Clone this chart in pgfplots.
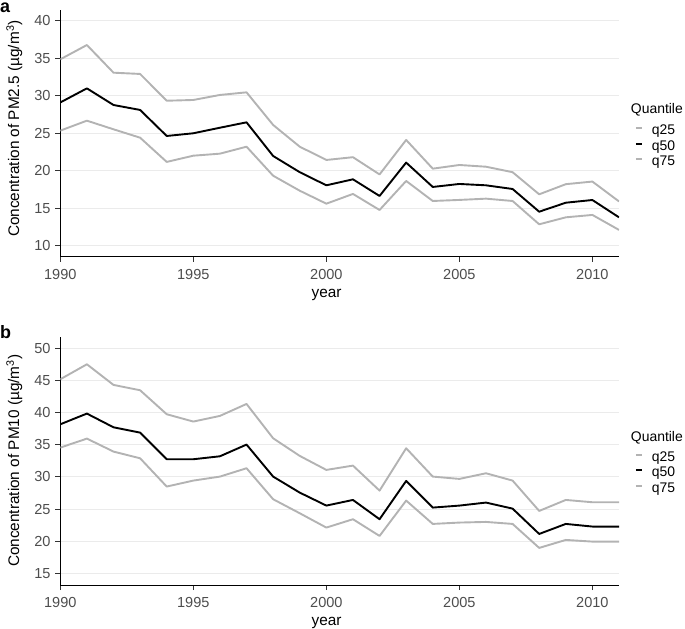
\documentclass[border=0pt]{standalone}
\usepackage{fontspec}
\setmainfont{Liberation Sans}
\usepackage{pgfplots}
\usepackage{pgfplotstable}
\pgfplotsset{compat=1.18}

\definecolor{qgray}{RGB}{179,179,179}
\definecolor{gridgray}{RGB}{235,235,235}
\definecolor{ticktext}{RGB}{77,77,77}
\definecolor{tickmark}{RGB}{51,51,51}

% PM2.5 quantiles
\pgfplotstableread{
year q25 q50 q75
1990 25.34 29.10 34.85
1991 26.67 30.98 36.76
1992 25.52 28.76 33.07
1993 24.40 28.10 32.90
1994 21.17 24.63 29.33
1995 22.00 24.99 29.43
1996 22.27 25.73 30.10
1997 23.20 26.45 30.45
1998 19.33 21.96 26.10
1999 17.33 19.80 23.20
2000 15.60 18.05 21.43
2001 16.90 18.85 21.80
2002 14.76 16.63 19.50
2003 18.63 21.08 24.10
2004 15.96 17.83 20.27
2005 16.10 18.23 20.76
2006 16.27 18.05 20.53
2007 15.96 17.56 19.80
2008 12.85 14.53 16.85
2009 13.78 15.73 18.20
2010 14.10 16.09 18.55
2011 12.10 13.78 15.90
}\pmtwofive

% PM10 quantiles
\pgfplotstableread{
year q25 q50 q75
1990 34.55 38.18 45.18
1991 35.95 39.84 47.51
1992 33.93 37.71 44.30
1993 32.89 36.88 43.47
1994 28.49 32.74 39.74
1995 29.42 32.74 38.60
1996 30.04 33.20 39.48
1997 31.34 35.02 41.34
1998 26.52 30.04 36.00
1999 24.34 27.55 33.26
2000 22.11 25.53 31.08
2001 23.41 26.41 31.75
2002 20.81 23.41 27.86
2003 26.31 29.37 34.45
2004 22.68 25.22 30.04
2005 22.89 25.53 29.68
2006 22.99 26.00 30.56
2007 22.68 25.06 29.42
2008 18.95 21.12 24.70
2009 20.19 22.68 26.41
2010 19.93 22.27 26.05
2011 19.93 22.27 26.05
}\pmten

\pgfplotsset{
  quant/.style={
    scale only axis, width=558.7bp, anchor=south west,
    xmin=1990, xmax=2011,
    xtick={1990,1995,2000,2005,2010},
    axis x line*=bottom, axis y line*=left,
    axis line style={black, line width=0.8bp},
    tick align=outside, major tick length=5bp,
    tick style={tickmark, line width=0.8bp},
    ymajorgrids, major grid style={gridgray, line width=0.8bp},
    ticklabel style={font=\fontsize{14.6}{16}\selectfont, text=ticktext},
    xticklabel style={anchor=north, inner sep=0pt, text height=10.4bp, yshift=-7.3bp},
    yticklabel style={anchor=east, inner sep=0pt, xshift=-4.6bp},
    /pgf/number format/1000 sep=,
    /pgf/number format/assume math mode=true,
    label style={font=\fontsize{15.4}{17}\selectfont},
    xlabel=year,
    xlabel style={at={(axis description cs:0.4765,0)}, anchor=base, yshift=-40.5bp},
    legend style={draw=none, fill=none, anchor=north west,
      font=\fontsize{14}{16}\selectfont, column sep=9bp,
      nodes={inner sep=0pt, text height=10.3bp, text depth=5bp}},
    legend cell align=left,
    legend image code/.code={\draw[#1] (0bp,3.8bp) -- (6bp,3.8bp);},
    every axis plot/.append style={line width=1.9bp, line join=round},
  }
}

\begin{document}
\begin{tikzpicture}
\path[use as bounding box] (0,0) rectangle (685bp,629bp);

\begin{axis}[quant,
    at={(60.3bp,372.3bp)}, height=246.7bp,
    ymin=8.53, ymax=41.43, ytick={10,15,...,40},
    ylabel={Concentration of PM2.5 (µg/m\textsuperscript{3})},
    ylabel style={at={(axis description cs:-0.0739,0.519)}, anchor=base},
    legend style={at={(1.0227,0.5444)}}]
  \addplot[qgray] table[x=year, y=q25] {\pmtwofive};
  \addplot[black] table[x=year, y=q50] {\pmtwofive};
  \addplot[qgray] table[x=year, y=q75] {\pmtwofive};
  \legend{q25, q50, q75}
\end{axis}

\begin{axis}[quant,
    at={(60.3bp,44bp)}, height=248.3bp,
    ymin=13.18, ymax=51.80, ytick={15,20,...,50},
    ylabel={Concentration of PM10 (µg/m\textsuperscript{3})},
    ylabel style={at={(axis description cs:-0.0739,0.5)}, anchor=base},
    legend style={at={(1.0227,0.5477)}}]
  \addplot[qgray] table[x=year, y=q25] {\pmten};
  \addplot[black] table[x=year, y=q50] {\pmten};
  \addplot[qgray] table[x=year, y=q75] {\pmten};
  \legend{q25, q50, q75}
\end{axis}

% legend titles and panel letters
\node[anchor=base west, inner sep=0pt, font=\fontsize{14}{16}\selectfont] at (630.7bp,515bp) {Quantile};
\node[anchor=base west, inner sep=0pt, font=\fontsize{14}{16}\selectfont] at (630.7bp,187.3bp) {Quantile};
\node[anchor=base west, inner sep=0pt, font=\fontsize{18}{20}\selectfont\bfseries] at (0bp,616bp) {a};
\node[anchor=base west, inner sep=0pt, font=\fontsize{18}{20}\selectfont\bfseries] at (0bp,290.7bp) {b};
\end{tikzpicture}
\end{document}
